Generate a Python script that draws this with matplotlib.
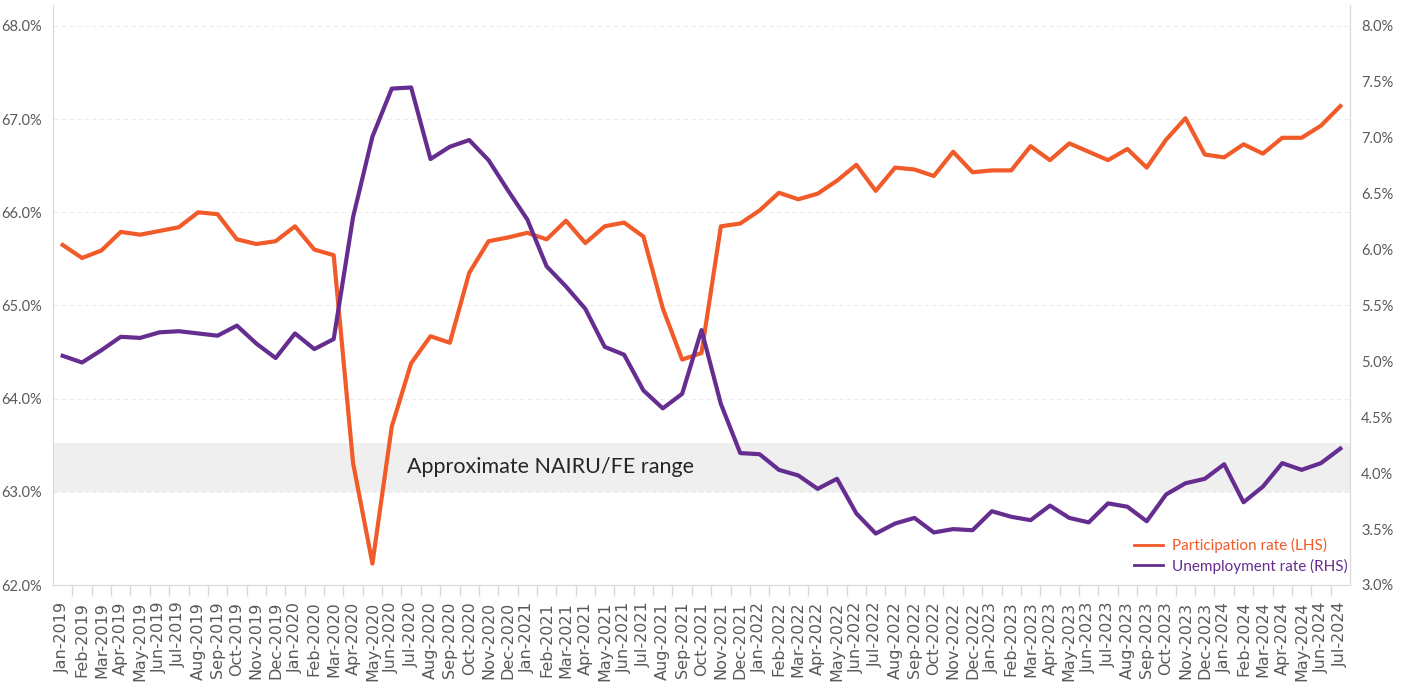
import numpy as np
import matplotlib.pyplot as plt
from matplotlib.lines import Line2D

month_names = ['Jan', 'Feb', 'Mar', 'Apr', 'May', 'Jun', 'Jul', 'Aug', 'Sep', 'Oct', 'Nov', 'Dec']
years = [2019, 2020, 2021, 2022, 2023, 2024]
labels = [f'{m}-{y}' for y in years for m in month_names][:67]  # Jan-2019 .. Jul-2024

# participation rate, % (LHS)
participation = [65.65, 65.51, 65.59, 65.79, 65.76, 65.80, 65.84, 66.00, 65.98, 65.71, 65.66, 65.69,
                 65.85, 65.60, 65.54, 63.31, 62.23, 63.70, 64.38, 64.67, 64.60, 65.35, 65.69, 65.73,
                 65.78, 65.71, 65.91, 65.67, 65.85, 65.89, 65.74, 64.97, 64.42, 64.49, 65.85, 65.88,
                 66.02, 66.21, 66.14, 66.20, 66.34, 66.51, 66.23, 66.48, 66.46, 66.39, 66.65, 66.43,
                 66.45, 66.45, 66.71, 66.56, 66.74, 66.65, 66.56, 66.68, 66.48, 66.78, 67.01, 66.62,
                 66.59, 66.73, 66.63, 66.80, 66.80, 66.93, 67.14]

# unemployment rate, % (RHS)
unemployment = [5.05, 4.99, 5.10, 5.22, 5.21, 5.26, 5.27, 5.25, 5.23, 5.32, 5.16, 5.03,
                5.25, 5.11, 5.20, 6.29, 7.01, 7.44, 7.45, 6.81, 6.92, 6.98, 6.80, 6.53,
                6.27, 5.85, 5.67, 5.47, 5.13, 5.06, 4.74, 4.58, 4.71, 5.28, 4.62, 4.18,
                4.17, 4.03, 3.98, 3.86, 3.95, 3.64, 3.46, 3.55, 3.60, 3.47, 3.50, 3.49,
                3.66, 3.61, 3.58, 3.71, 3.60, 3.56, 3.73, 3.70, 3.57, 3.81, 3.91, 3.95,
                4.08, 3.74, 3.88, 4.09, 4.03, 4.09, 4.22]

nairu_band = (63.0, 63.52)  # shaded range, on LHS scale
left_ticks = [62, 63, 64, 65, 66, 67, 68]
right_ticks = [3.0, 3.5, 4.0, 4.5, 5.0, 5.5, 6.0, 6.5, 7.0, 7.5, 8.0]

orange = '#F15A29'
purple = '#662D91'
grey = '#595959'
narrow = ['Lato', 'DejaVu Sans']

W, H = 1403, 688
fig = plt.figure(figsize=(W / 100, H / 100), dpi=100)
ax = fig.add_axes([53 / W, 1 - 585 / H, (1350 - 53) / W, (585 - 5) / H])
ax2 = ax.twinx()

x = np.arange(len(labels))
ax.axhspan(*nairu_band, color='#efefef', lw=0, zorder=0)
ax.plot(x, participation, color=orange, lw=3)
ax2.plot(x, unemployment, color=purple, lw=3)

ax.set_xlim(-0.5, len(labels) - 0.5)
ax.set_ylim(62, 68 + 21 / 93.2)
ax2.set_ylim(3, 8 + 21 / 111.8)

ax.set_yticks(left_ticks)
ax.set_yticklabels([f'{v:.1f}%' for v in left_ticks], family=narrow, fontsize=10.5, color=grey)
ax2.set_yticks(right_ticks)
ax2.set_yticklabels([f'{v:.1f}%' for v in right_ticks], family=narrow, fontsize=10.5, color=grey)
ax.tick_params(axis='y', length=0, pad=8)
ax2.tick_params(axis='y', length=0, pad=8)

ax.set_xticks(x)
ax.set_xticklabels(labels, rotation=90, fontsize=11.5, color=grey, family='DejaVu Sans')
ax.set_xticks(x[1:] - 0.5, minor=True)
ax.tick_params(axis='x', which='major', length=0, pad=12)
ax.tick_params(axis='x', which='minor', length=8, color='#d9d9d9', width=1)

ax.yaxis.grid(True, color='#ececec', ls=(0, (4, 3)), lw=0.8)
ax.set_axisbelow(True)

ax.spines['top'].set_visible(False)
for s in ['left', 'right', 'bottom']:
    ax.spines[s].set_color('#d9d9d9')
for s in ['top', 'left', 'bottom']:
    ax2.spines[s].set_visible(False)
ax2.spines['right'].set_color('#d9d9d9')

ax.text(17.8, 63.27, 'Approximate NAIRU/FE range', family=narrow, fontsize=15.5,
        color='#262626', va='center', ha='left')

handles = [Line2D([], [], color=orange, lw=2), Line2D([], [], color=purple, lw=2)]
fig.legend(handles, ['Participation rate (LHS)', 'Unemployment rate (RHS)'],
           loc='center left', bbox_to_anchor=(1126 / W, 1 - 556 / H), frameon=False,
           prop={'family': narrow, 'size': 11}, labelcolor=[orange, purple],
           handlelength=1.9, handletextpad=0.6, labelspacing=0.35, borderpad=0)

fig.savefig('out.png', dpi=100)
